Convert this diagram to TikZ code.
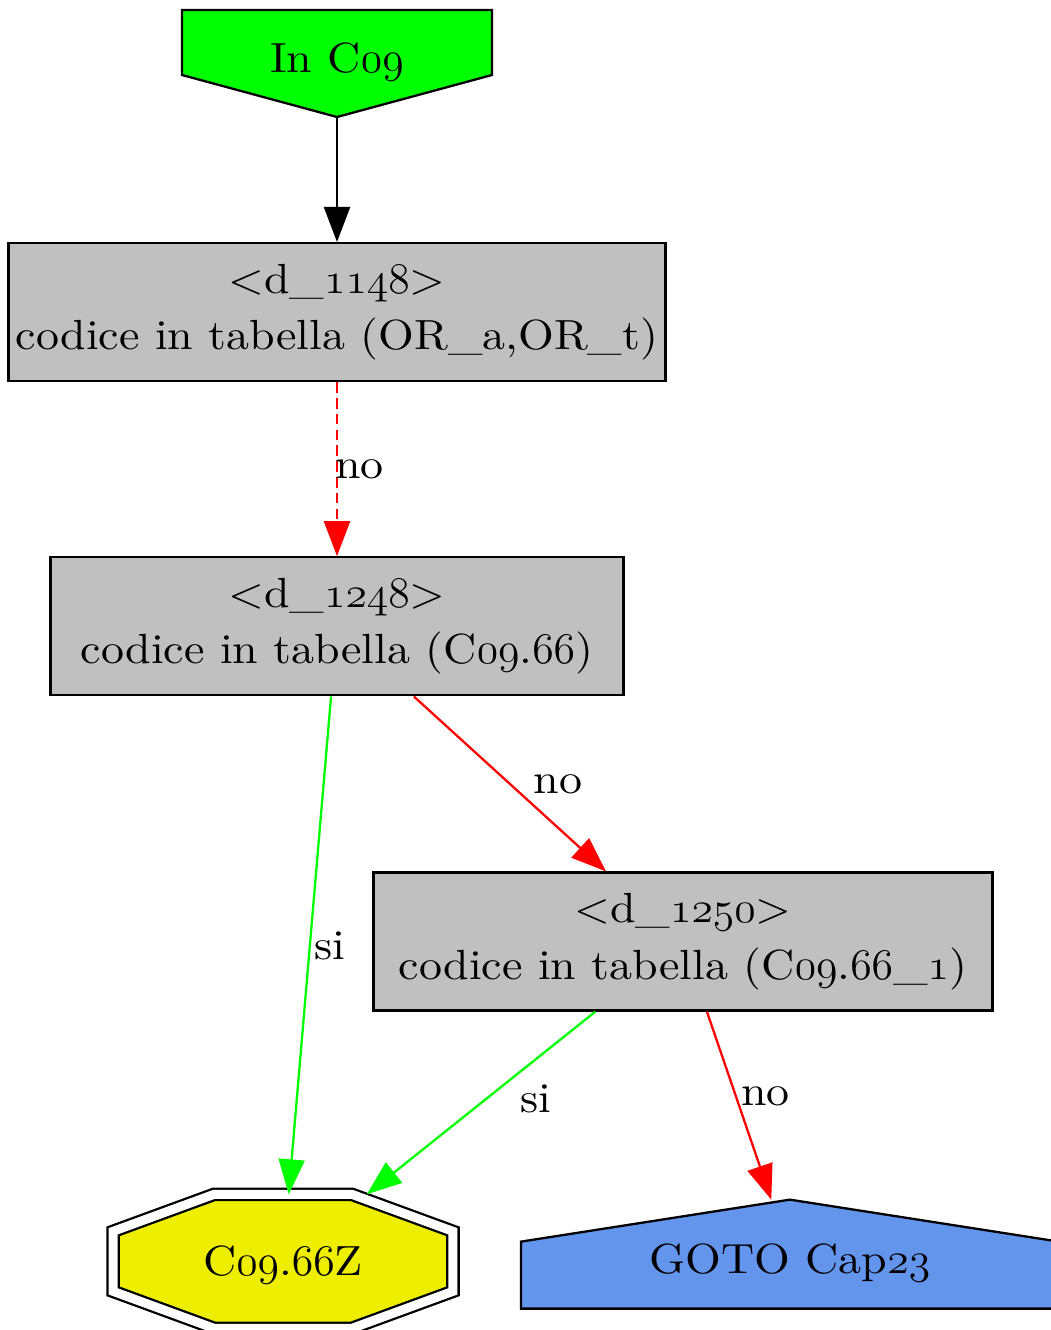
\documentclass[tikz,border=0pt]{standalone}
\usepackage{fontspec}
\setmainfont{lmroman10-regular}[Extension=.otf, FakeStretch=1.09]
\usepackage{xcolor}
\usepackage{tikz}
\usetikzlibrary{arrows.meta,positioning,backgrounds}

\definecolor{testgray}{HTML}{C0C0C0}
\definecolor{leafyellow}{HTML}{EEEE00}
\definecolor{jumpblue}{HTML}{6495ED}
% old style digits, as in the graph's serif font
\newcommand\cnum[1]{{\usefont{OML}{cmm}{m}{it}#1}}

\begin{document}
\begin{tikzpicture}[
  x=0.02cm, y=-0.02cm,
  font=\fontsize{24}{32}\selectfont,
  >=Latex,
  test/.style={draw, line width=1.3pt, fill=testgray, align=center, inner xsep=2pt, minimum height=2.76cm},
  entry/.style={inner sep=0pt, outer sep=0pt, minimum width=6.2cm, minimum height=2.14cm, text height=0.6cm, text depth=0.26cm},
  leaf/.style={inner sep=0pt, outer sep=0pt, minimum width=6.8cm, minimum height=2.68cm, text height=0.66cm, text depth=0.1cm},
  jump/.style={inner sep=0pt, outer sep=0pt, minimum width=10.76cm, minimum height=2.18cm, text height=0.98cm, text depth=0.2cm},
  outline/.style={draw, line width=1.3pt},
  flow/.style={-{Triangle[length=7mm,width=5.2mm]}, line width=1.3pt},
  lbl/.style={anchor=west, inner sep=0pt}
]
\useasboundingbox (0,0) rectangle (1051,1330);

\node[entry] (start) at (337,63.5) {In C\cnum{09}};
\node[test, minimum width=13.14cm, below=2.5cm of start] (d1148) {<d\_\cnum{1148}>\\codice in tabella (OR\_a,OR\_t)};
\node[test, minimum width=11.46cm, below=3.48cm of d1148] (d1248) {<d\_\cnum{1248}>\\codice in tabella (C\cnum{09}.\cnum{66})};
\node[test, minimum width=12.38cm, below=3.5cm of d1248.south, xshift=6.92cm] (d1250) {<d\_\cnum{1250}>\\codice in tabella (C\cnum{09}.\cnum{66}\_\cnum{1})};
\node[leaf, below=9.96cm of d1248.south, xshift=-1.08cm] (c966z) {C\cnum{09}.\cnum{66}Z};
\node[jump, below=3.76cm of d1250.south, xshift=2.14cm] (goto) {GOTO Cap\cnum{23}};

% node outlines behind the texts
\begin{scope}[on background layer]
\draw[outline, fill=green] (start.north west) -- (start.north east) -- ([yshift=0.84cm]start.south east)
  -- (start.south) -- ([yshift=0.84cm]start.south west) -- cycle;
\draw[outline, fill=leafyellow, double=white, double distance=0.18cm]
  ([xshift=2.02cm]c966z.north west) -- ([xshift=-2.02cm]c966z.north east) -- ([yshift=-0.74cm]c966z.north east)
  -- ([yshift=0.74cm]c966z.south east) -- ([xshift=-2.02cm]c966z.south east) -- ([xshift=2.02cm]c966z.south west)
  -- ([yshift=0.74cm]c966z.south west) -- ([yshift=-0.74cm]c966z.north west) -- cycle;
\draw[outline, fill=jumpblue] (goto.north) -- ([yshift=1.34cm]goto.south east) -- (goto.south east)
  -- (goto.south west) -- ([yshift=1.34cm]goto.south west) -- cycle;
\end{scope}

\draw[flow] (start) -- (d1148);
\draw[flow, draw=red, dash pattern=on 6pt off 3pt] (d1148) -- node[lbl, pos=.5, xshift=-0.06cm] (no1) {no} (d1248);
\draw[flow, draw=red] (d1248) -- node[lbl, pos=.5, xshift=0.45cm] (no2) {no} (d1250);
\draw[flow, draw=green] (d1248) -- node[lbl, pos=.5, xshift=0.06cm] (si1) {si} (c966z);
\draw[flow, draw=green] (d1250) -- node[lbl, pos=.48, xshift=0.68cm] (si2) {si} (c966z);
\draw[flow, draw=red] (d1250) -- node[lbl, pos=.45, xshift=0.08cm] (no3) {no} (goto);
\end{tikzpicture}
\end{document}
